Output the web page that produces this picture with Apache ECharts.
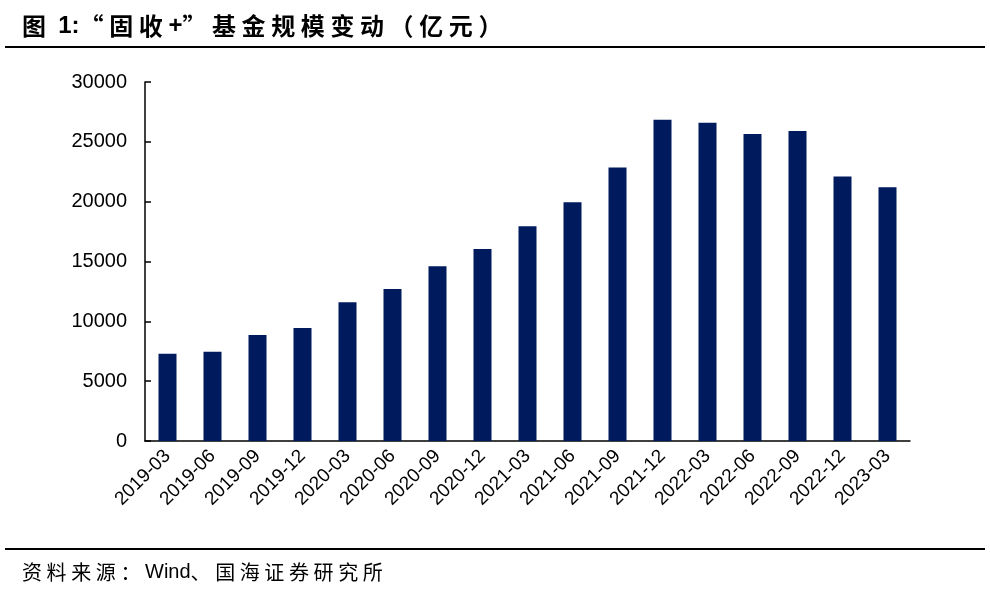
<!DOCTYPE html>
<html><head><meta charset="utf-8">
<script src="https://cdn.jsdelivr.net/npm/echarts@6/dist/echarts.min.js"></script>
<style>html,body{margin:0;padding:0;background:#fff}#c{width:990px;height:593px}</style>
</head><body><div id="c"></div>
<script>
const categories = ['2019-03','2019-06','2019-09','2019-12','2020-03','2020-06','2020-09','2020-12','2021-03','2021-06','2021-09','2021-12','2022-03','2022-06','2022-09','2022-12','2023-03'];
const scaleValues = [7300,7450,8850,9450,11600,12700,14600,16050,17950,19950,22850,26850,26600,25650,25900,22100,21200];
const yTicks = {min:0, max:30000, interval:5000};
const titleText = '图 1:“固收+”基金规模变动（亿元）';
const sourceText = '资料来源：Wind、国海证券研究所';

// spaced text helper (letter spacing on CJK characters via per-character placement)
function spacedText(text, x, y, weight, size, spacing) {
  const ctx = document.createElement('canvas').getContext('2d');
  const out = [];
  let cx = x;
  for (const ch of text) {
    const ascii = ch.charCodeAt(0) < 128;
    const font = weight + ' ' + size + 'px ' + (ascii ? 'Arial' : '"Noto Sans CJK SC"');
    ctx.font = font;
    out.push({type:'text', x:cx, y:y, style:{text:ch, fill:'#000', font:font, verticalAlign:'middle'}});
    cx += ctx.measureText(ch).width + (ascii ? 0 : spacing);
  }
  return out;
}

const chart = echarts.init(document.getElementById('c'));
chart.setOption({
  animation:false,
  backgroundColor:'#fff',
  grid:{left:145,right:80,top:82,bottom:152,containLabel:false},
  xAxis:{type:'category',data:categories,
    axisLine:{lineStyle:{color:'#000',width:1.5}},
    axisTick:{inside:true,length:6,lineStyle:{color:'#000',width:1.5}},
    axisLabel:{rotate:45,color:'#000',fontSize:19,fontFamily:'Arial',margin:12,interval:0}},
  yAxis:{type:'value',min:yTicks.min,max:yTicks.max,interval:yTicks.interval,
    axisLine:{show:true,lineStyle:{color:'#000',width:1.5}},
    axisTick:{show:true,inside:true,length:6,lineStyle:{color:'#000',width:1.5}},
    splitLine:{show:false},
    axisLabel:{color:'#000',fontSize:20,fontFamily:'Arial',margin:18,formatter:v=>String(v)}},
  series:[{type:'bar',data:scaleValues,barWidth:18,itemStyle:{color:'#001A5E'}}],
  graphic:[].concat(
    spacedText(titleText, 22, 26, 'bold', 24, 5.6),
    [{type:'line',shape:{x1:5,y1:47,x2:985,y2:47},style:{stroke:'#000',lineWidth:2}},
     {type:'line',shape:{x1:5,y1:549,x2:985,y2:549},style:{stroke:'#000',lineWidth:2}}],
    spacedText(sourceText, 22, 572, 'normal', 20, 4.6)
  )
});
</script></body></html>
